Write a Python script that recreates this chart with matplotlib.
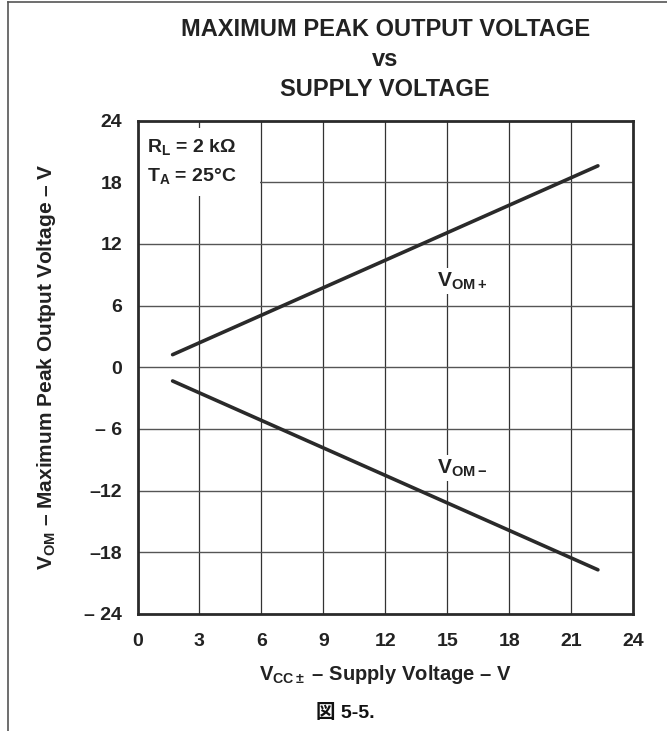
import matplotlib
matplotlib.use("Agg")
import matplotlib.pyplot as plt
from matplotlib.patches import Rectangle
from matplotlib.lines import Line2D

# ---- data ----
supply_v = [1.7, 22.3]
vom_pos = [1.23, 19.6]
vom_neg = [-1.33, -19.7]
x_ticks = [0, 3, 6, 9, 12, 15, 18, 21, 24]
x_tick_labels = ["0", "3", "6", "9", "12", "15", "18", "21", "24"]
y_ticks = [-24, -18, -12, -6, 0, 6, 12, 18, 24]
y_tick_labels = ["– 24", "–18", "–12", "– 6", "0", "6", "12", "18", "24"]

plt.rcParams['font.family'] = ['Liberation Sans', 'Noto Sans CJK JP', 'DejaVu Sans']
plt.rcParams['font.weight'] = 'bold'
plt.rcParams['mathtext.fontset'] = 'custom'
plt.rcParams['mathtext.rm'] = 'Liberation Sans:bold'
plt.rcParams['mathtext.bf'] = 'Liberation Sans:bold'
plt.rcParams['mathtext.it'] = 'Liberation Sans:bold'
plt.rcParams['mathtext.default'] = 'bf'

TXT = '#222222'
W, H = 667, 731
fig = plt.figure(figsize=(W / 100, H / 100), dpi=100)
L, R, T, B = 137.5, 633, 120.6, 614
ax = fig.add_axes([L / W, 1 - B / H, (R - L) / W, (B - T) / H])

ax.set_xlim(0, 24)
ax.set_ylim(-24, 24)
ax.set_xticks(x_ticks)
ax.set_xticklabels(x_tick_labels)
ax.set_yticks(y_ticks)
ax.set_yticklabels(y_tick_labels)
ax.tick_params(axis='x', length=0, labelsize=14, pad=14)
ax.tick_params(axis='y', length=0, labelsize=14, pad=11)
for lab in ax.get_xticklabels() + ax.get_yticklabels():
    lab.set_fontweight('bold')
    lab.set_color(TXT)

for x in x_ticks[1:-1]:
    ax.axvline(x, color='#333333', lw=0.9, zorder=1)
for y in y_ticks[1:-1]:
    ax.axhline(y, color='#555555', lw=1.0, zorder=1)

for s in ax.spines.values():
    s.set_linewidth(2.0)
    s.set_color('#2a2a2a')
    s.set_zorder(5)

# white box for conditions
ax.add_patch(Rectangle((0.05, 16.7), 5.9, 6.6, facecolor='white', edgecolor='none', zorder=2))
ax.text(0.45, 21.4, r"$R_L$ = 2 kΩ", fontsize=14, fontweight='bold', va='center', ha='left', zorder=3, color=TXT)
ax.text(0.45, 18.6, r"$T_A$ = 25°C", fontsize=14, fontweight='bold', va='center', ha='left', zorder=3, color=TXT)

ax.plot(supply_v, vom_pos, color='#2a2a2a', lw=2.6, solid_capstyle='round', zorder=4)
ax.plot(supply_v, vom_neg, color='#2a2a2a', lw=2.6, solid_capstyle='round', zorder=4)

ax.text(14.5, 8.4, r"$V_{OM+}$", fontsize=15, ha='left', va='center', zorder=3,
        color=TXT, bbox=dict(facecolor='white', edgecolor='none', pad=2))
ax.text(14.5, -9.8, r"$V_{OM-}$", fontsize=15, ha='left', va='center', zorder=3,
        color=TXT, bbox=dict(facecolor='white', edgecolor='none', pad=2))

# titles
cx = (L + R) / 2 / W
fig.text(cx, 1 - 30 / H, "MAXIMUM PEAK OUTPUT VOLTAGE", ha='center', va='center', fontsize=17, fontweight='bold', color=TXT)
fig.text(cx, 1 - 60 / H, "vs", ha='center', va='center', fontsize=17, fontweight='bold', color=TXT)
fig.text(cx, 1 - 89 / H, "SUPPLY VOLTAGE", ha='center', va='center', fontsize=17, fontweight='bold', color=TXT)

fig.text(cx, 1 - 675 / H, r"$V_{CC\pm}$ – Supply Voltage – V", ha='center', va='center', fontsize=14.5, fontweight='bold', color=TXT)
fig.text(47 / W, 1 - 367 / H, r"$V_{OM}$ – Maximum Peak Output Voltage – V", ha='center', va='center', rotation=90, fontsize=15, fontweight='bold', color=TXT)
fig.text(345 / W, 1 - 713 / H, "図 5-5.", ha='center', va='center', fontsize=14, fontweight='bold', color='#111111',
         family=['Liberation Sans', 'Noto Sans CJK JP'])

# page frame (top and left)
fig.add_artist(Line2D([8 / W, 8 / W], [0, 1 - 2 / H], transform=fig.transFigure, color='#555555', lw=1.2))
fig.add_artist(Line2D([8 / W, 1], [1 - 2 / H, 1 - 2 / H], transform=fig.transFigure, color='#555555', lw=1.2))

fig.savefig("out.png", dpi=100)
